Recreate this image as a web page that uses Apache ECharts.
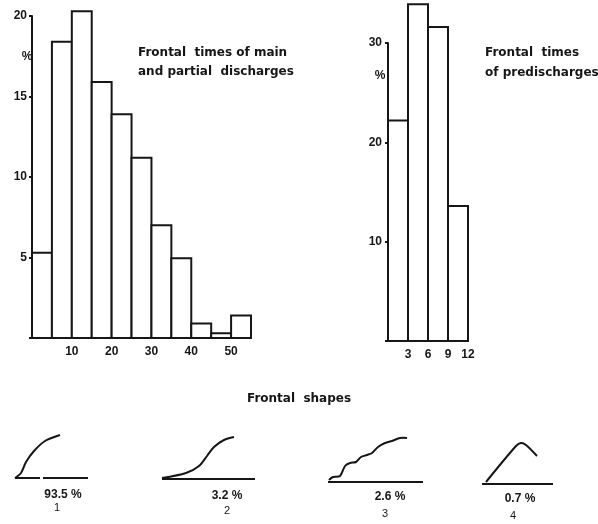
<!DOCTYPE html>
<html>
<head>
<meta charset="utf-8">
<script src="https://cdn.jsdelivr.net/npm/echarts@6/dist/echarts.min.js"></script>
<style>
  html, body { margin: 0; padding: 0; background: #fff; }
  #chart { width: 598px; height: 524px; }
</style>
</head>
<body>
<div id="chart"></div>
<script>
// Frontal times of main and partial discharges (bins of 5, %)
const mainBinStarts = [0, 5, 10, 15, 20, 25, 30, 35, 40, 45, 50];
const mainBinWidth = 5;
const mainPercent = [5.3, 18.4, 20.3, 15.9, 13.9, 11.2, 7.0, 4.95, 0.9, 0.3, 1.4];
const mainXTicks = [10, 20, 30, 40, 50];
const mainYTicks = [5, 10, 15, 20];

// Frontal times of predischarges (bins of 3, %)
const preBinStarts = [0, 3, 6, 9];
const preBinWidth = 3;
const prePercent = [22.2, 33.9, 31.6, 13.6];
const preXTicks = [3, 6, 9, 12];
const preYTicks = [10, 20, 30];

// Frontal shape shares
const shapeLabels = ['93.5 %', '3.2 %', '2.6 %', '0.7 %'];
const shapeNumbers = ['1', '2', '3', '4'];

const INK = '#161616';
const FONT = '"Liberation Sans", Arial, sans-serif';
const WIDE = '"DejaVu Sans", Verdana, sans-serif';

function binData(starts, width, values) {
  return starts.map((s, i) => [s, s + width, values[i]]);
}

function renderBin(params, api) {
  const p0 = api.coord([api.value(0), 0]);
  const p1 = api.coord([api.value(1), api.value(2)]);
  return {
    type: 'rect',
    shape: { x: p0[0], y: p1[1], width: p1[0] - p0[0], height: p0[1] - p1[1] },
    style: { fill: '#fff', stroke: INK, lineWidth: 2 }
  };
}

function tickFormatter(list) {
  return v => (list.indexOf(v) >= 0 ? String(v) : '');
}

const axisText = { color: INK, fontSize: 12, fontWeight: 'bold', fontFamily: FONT };

// Outline sketches of the four frontal shapes
const shapeCurves = [
  { base: [[15, 478], [40, 478]], base2: [[43, 478], [88, 478]],
    curve: [[15, 478], [21, 473], [26, 462], [34, 451], [45, 441], [60, 435]] },
  { base: [[162, 479], [255, 479]],
    curve: [[162, 478], [186, 473], [199, 466], [207, 456], [214, 447], [224, 440], [234, 437]] },
  { base: [[328, 482], [423, 482]],
    curve: [[329, 480], [333, 477], [340, 476], [345, 466], [350, 463], [356, 462], [361, 457], [367, 455], [372, 453], [378, 447], [385, 443], [392, 441], [400, 438], [407, 438]] },
  { base: [[482, 484], [553, 484]],
    curve: [[486, 482], [516, 446], [521, 443], [526, 445], [537, 456]] }
];
const shapeLabelPos = [[63, 495], [227, 496], [390, 497], [520, 499]];
const shapeNumberPos = [[57, 508], [227, 511], [385, 514], [513, 516]];

const graphics = [];
shapeCurves.forEach(s => {
  graphics.push({ type: 'polyline', shape: { points: s.base }, style: { stroke: INK, lineWidth: 2, fill: null } });
  if (s.base2) graphics.push({ type: 'polyline', shape: { points: s.base2 }, style: { stroke: INK, lineWidth: 2, fill: null } });
  graphics.push({ type: 'polyline', shape: { points: s.curve, smooth: 0.3 }, style: { stroke: INK, lineWidth: 2, fill: null } });
});
shapeLabels.forEach((t, i) => {
  graphics.push({ type: 'text', x: shapeLabelPos[i][0], y: shapeLabelPos[i][1],
    style: { text: t, fill: INK, font: 'bold 12px ' + FONT, align: 'center', verticalAlign: 'middle' } });
  graphics.push({ type: 'text', x: shapeNumberPos[i][0], y: shapeNumberPos[i][1],
    style: { text: shapeNumbers[i], fill: INK, font: '11px ' + FONT, align: 'center', verticalAlign: 'middle' } });
});
const titleFont = 'bold 12px ' + WIDE;
graphics.push(
  { type: 'text', x: 299, y: 399, style: { text: 'Frontal  shapes', fill: INK, font: titleFont, align: 'center', verticalAlign: 'middle' } },
  { type: 'text', x: 138, y: 53, style: { text: 'Frontal  times of main', fill: INK, font: titleFont, verticalAlign: 'middle' } },
  { type: 'text', x: 138, y: 72, style: { text: 'and partial  discharges', fill: INK, font: titleFont, verticalAlign: 'middle' } },
  { type: 'text', x: 485, y: 53, style: { text: 'Frontal  times', fill: INK, font: titleFont, verticalAlign: 'middle' } },
  { type: 'text', x: 485, y: 73, style: { text: 'of predischarges', fill: INK, font: titleFont, verticalAlign: 'middle' } },
  { type: 'text', x: 27, y: 57, style: { text: '%', fill: INK, font: 'bold 12px ' + FONT, align: 'center', verticalAlign: 'middle' } },
  { type: 'text', x: 380, y: 76, style: { text: '%', fill: INK, font: 'bold 12px ' + FONT, align: 'center', verticalAlign: 'middle' } }
);

const chart = echarts.init(document.getElementById('chart'), null, { renderer: 'canvas' });
chart.setOption({
  backgroundColor: '#fff',
  animation: false,
  grid: [
    { left: 32, top: 16, width: 219, height: 322 },
    { left: 388, top: 43, width: 80, height: 298 }
  ],
  xAxis: [
    {
      gridIndex: 0, type: 'value', min: 0, max: 55, interval: 5,
      splitLine: { show: false },
      axisLine: { lineStyle: { color: INK, width: 2 } },
      axisTick: { show: false },
      axisLabel: Object.assign({ formatter: tickFormatter(mainXTicks), margin: 8, showMaxLabel: false }, axisText)
    },
    {
      gridIndex: 1, type: 'value', min: 0, max: 12, interval: 3,
      splitLine: { show: false },
      axisLine: { lineStyle: { color: INK, width: 2 } },
      axisTick: { show: false },
      axisLabel: Object.assign({ formatter: tickFormatter(preXTicks), margin: 8 }, axisText)
    }
  ],
  yAxis: [
    {
      gridIndex: 0, type: 'value', min: 0, max: 20, interval: 5,
      splitLine: { show: false },
      axisLine: { show: true, lineStyle: { color: INK, width: 2 } },
      axisTick: { show: true, length: 3, lineStyle: { color: INK, width: 2 } },
      axisLabel: Object.assign({ formatter: tickFormatter(mainYTicks), margin: 5 }, axisText)
    },
    {
      gridIndex: 1, type: 'value', min: 0, max: 30, interval: 10,
      splitLine: { show: false },
      axisLine: { show: true, lineStyle: { color: INK, width: 2 } },
      axisTick: { show: true, length: 3, lineStyle: { color: INK, width: 2 } },
      axisLabel: Object.assign({ formatter: tickFormatter(preYTicks), margin: 6 }, axisText)
    }
  ],
  series: [
    {
      type: 'custom', xAxisIndex: 0, yAxisIndex: 0, clip: false,
      renderItem: renderBin, encode: { x: [0, 1], y: 2 },
      data: binData(mainBinStarts, mainBinWidth, mainPercent)
    },
    {
      type: 'custom', xAxisIndex: 1, yAxisIndex: 1, clip: false,
      renderItem: renderBin, encode: { x: [0, 1], y: 2 },
      data: binData(preBinStarts, preBinWidth, prePercent)
    }
  ],
  graphic: graphics
});
</script>
</body>
</html>
